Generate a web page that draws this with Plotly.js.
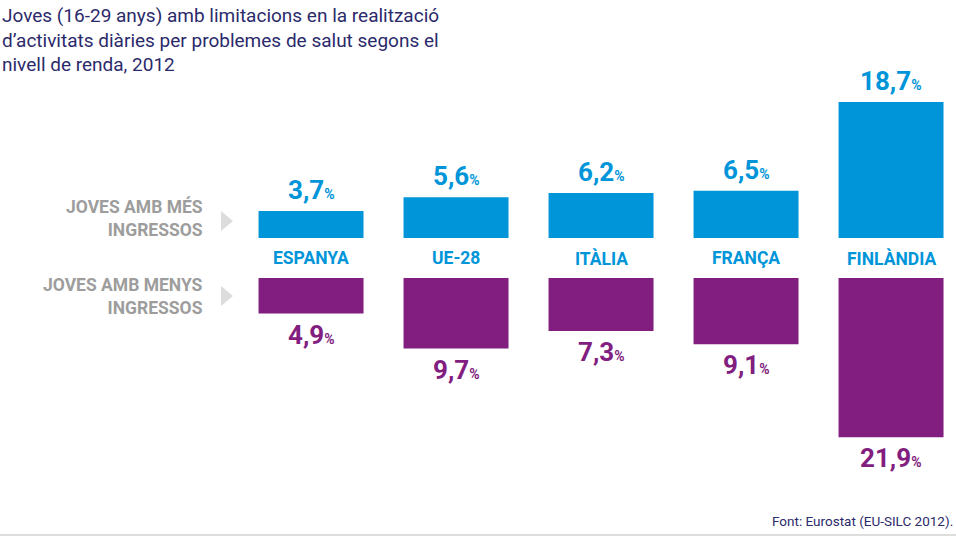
<!DOCTYPE html>
<html><head><meta charset="utf-8">
<script src="https://cdn.plot.ly/plotly-3.0.1.min.js"></script>
<style>body{margin:0;background:#fff}#c{width:956px;height:536px}</style>
</head><body><div id="c"></div>
<script>
const countries = ['ESPANYA', 'UE-28', 'ITÀLIA', 'FRANÇA', 'FINLÀNDIA'];
const moreIncome = [3.7, 5.6, 6.2, 6.5, 18.7];
const lessIncome = [4.9, 9.7, 7.3, 9.1, 21.9];

const GAP = 5.5;
const BLUE = '#0095d9', PURPLE = '#821e7f', NAVY = '#2b2a6b', GREY = '#9d9d9d';
const idx = countries.map((_, i) => i);
const fmt = v => v.toFixed(1).replace('.', ',') + '<span style="font-size:14px">%</span>';

const data = [
  { type: 'bar', x: idx, y: moreIncome, base: 0, marker: { color: BLUE }, width: 0.724, hoverinfo: 'skip' },
  { type: 'bar', x: idx, y: lessIncome.map(v => -v), base: -GAP, marker: { color: PURPLE }, width: 0.724, hoverinfo: 'skip' }
];

const ann = [];
idx.forEach(i => {
  ann.push({ x: i, y: moreIncome[i], yanchor: 'bottom', yshift: 4, text: fmt(moreIncome[i]), showarrow: false,
    font: { size: 26, color: BLUE, family: 'Roboto', weight: 700 } });
  ann.push({ x: i, y: -GAP - lessIncome[i], yanchor: 'top', yshift: -4, text: fmt(lessIncome[i]), showarrow: false,
    font: { size: 26, color: PURPLE, family: 'Roboto', weight: 700 } });
  ann.push({ x: i, y: -GAP / 2, yanchor: 'middle', text: countries[i], showarrow: false,
    font: { size: 17.5, color: BLUE, family: 'Roboto', weight: 700 } });
});
ann.push({ xref: 'paper', yref: 'paper', x: 205 / 956, y: 1 - 218 / 536, xanchor: 'right', yanchor: 'middle', align: 'right',
  text: 'JOVES AMB MÉS<br>INGRESSOS', showarrow: false, font: { size: 17.5, color: GREY, family: 'Roboto', weight: 700 } });
ann.push({ xref: 'paper', yref: 'paper', x: 205 / 956, y: 1 - 296 / 536, xanchor: 'right', yanchor: 'middle', align: 'right',
  text: 'JOVES AMB MENYS<br>INGRESSOS', showarrow: false, font: { size: 17.5, color: GREY, family: 'Roboto', weight: 700 } });
ann.push({ xref: 'paper', yref: 'paper', x: 0, y: 1 - 2 / 536, xanchor: 'left', yanchor: 'top', align: 'left',
  text: 'Joves (16-29 anys) amb limitacions en la realització<br>d’activitats diàries per problemes de salut segons el<br>nivell de renda, 2012',
  showarrow: false, font: { size: 19, color: NAVY, family: 'Roboto' } });
ann.push({ xref: 'paper', yref: 'paper', x: 955 / 956, y: 1 - 521 / 536, xanchor: 'right', yanchor: 'middle',
  text: 'Font: Eurostat (EU-SILC 2012).', showarrow: false, font: { size: 13.5, color: NAVY, family: 'Roboto' } });

function tri(cy) {
  const x0 = 221 / 956, x1 = 233 / 956, h = 10 / 536, y = 1 - cy / 536;
  return { type: 'path', xref: 'paper', yref: 'paper', path: `M${x0},${y + h} L${x1},${y} L${x0},${y - h} Z`,
    fillcolor: '#dcdcdc', line: { width: 0 } };
}

const layout = {
  width: 956, height: 536, margin: { l: 0, r: 0, t: 0, b: 0 },
  paper_bgcolor: '#fff', plot_bgcolor: '#fff', showlegend: false, barmode: 'overlay',
  xaxis: { range: [-2.145, 4.448], visible: false, fixedrange: true },
  yaxis: { range: [-40.99, 32.74], visible: false, fixedrange: true },
  annotations: ann,
  shapes: [tri(221), tri(296),
    { type: 'line', xref: 'paper', yref: 'paper', x0: 0, x1: 1, y0: 1 / 536, y1: 1 / 536, line: { color: '#bbb', width: 1 } }]
};
Plotly.newPlot('c', data, layout, { displayModeBar: false, staticPlot: true });
</script></body></html>
